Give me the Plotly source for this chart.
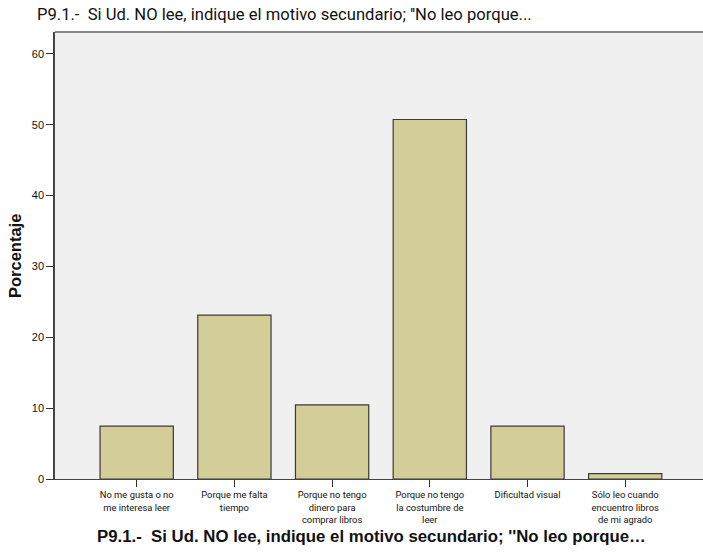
import plotly.graph_objects as go

categories = [
    "No me gusta o no<br>me interesa leer",
    "Porque me falta<br>tiempo",
    "Porque no tengo<br>dinero para<br>comprar libros",
    "Porque no tengo<br>la costumbre de<br>leer",
    "Dificultad visual",
    "Sólo leo cuando<br>encuentro libros<br>de mi agrado",
]
porcentaje = [7.46, 23.13, 10.45, 50.75, 7.46, 0.75]
y_ticks = [0, 10, 20, 30, 40, 50, 60]

titulo = "P9.1.-  Si Ud. NO lee, indique el motivo secundario; ''No leo porque..."
titulo_eje = "P9.1.-  Si Ud. NO lee, indique el motivo secundario; ''No leo porque…"

W, H = 703, 554
L, R, T, B = 55, 0, 32, 75
NARROW = "Roboto, Liberation Sans, sans-serif"
SANS = "Liberation Sans, Arial, sans-serif"

fig = go.Figure()
fig.add_trace(go.Bar(
    x=list(range(len(categories))),
    y=porcentaje,
    width=0.75,
    marker=dict(color="#D3CE97", line=dict(color="#3a3a3a", width=1.2)),
))

fig.update_layout(
    width=W, height=H,
    margin=dict(l=L, r=R, t=T, b=B, autoexpand=False),
    paper_bgcolor="white",
    plot_bgcolor="#F0F0F0",
    showlegend=False,
    font=dict(family=SANS, size=11, color="#111"),
    title=dict(
        text=titulo,
        x=37 / W, xanchor="left", xref="container",
        y=1 - 14 / H, yanchor="middle", yref="container",
        font=dict(family=NARROW, size=16.6, color="#111"),
    ),
)

fig.update_xaxes(
    tickmode="array",
    tickvals=list(range(len(categories))),
    ticktext=categories,
    range=[-0.836, 5.796],
    ticks="outside", ticklen=7, tickcolor="#333", tickwidth=1.2,
    showline=True, linecolor="#444", linewidth=1.2,
    showgrid=False, zeroline=False, automargin=False,
    tickfont=dict(family=NARROW, size=9.4),
)
fig.update_yaxes(
    tickmode="array",
    tickvals=y_ticks,
    range=[0, 63.1],
    ticks="outside", ticklen=7, tickcolor="#333", tickwidth=1.2,
    showline=True, linecolor="#444", linewidth=1.5,
    showgrid=False, zeroline=False, automargin=False,
    tickfont=dict(size=11),
)

# top border of the frame
fig.add_shape(type="line", xref="paper", yref="paper", x0=0, x1=1, y0=1, y1=1,
              line=dict(color="#888", width=2))

ph = H - T - B
pw = W - L - R
fig.add_annotation(
    text="<b>" + titulo_eje + "</b>",
    xref="paper", yref="paper",
    x=(371 - L) / pw, y=-(536 - (H - B)) / ph,
    xanchor="center", yanchor="middle", showarrow=False,
    font=dict(size=16.8, color="#111"),
)
fig.add_annotation(
    text="<b>Porcentaje</b>",
    xref="paper", yref="paper",
    x=(15 - L) / pw, y=(H - B - 256) / ph,
    xanchor="center", yanchor="middle", showarrow=False, textangle=-90,
    font=dict(size=16.5, color="#111"),
)

fig.write_html("out.html", config={"displayModeBar": False},
               post_script="document.body.style.margin='0';")
